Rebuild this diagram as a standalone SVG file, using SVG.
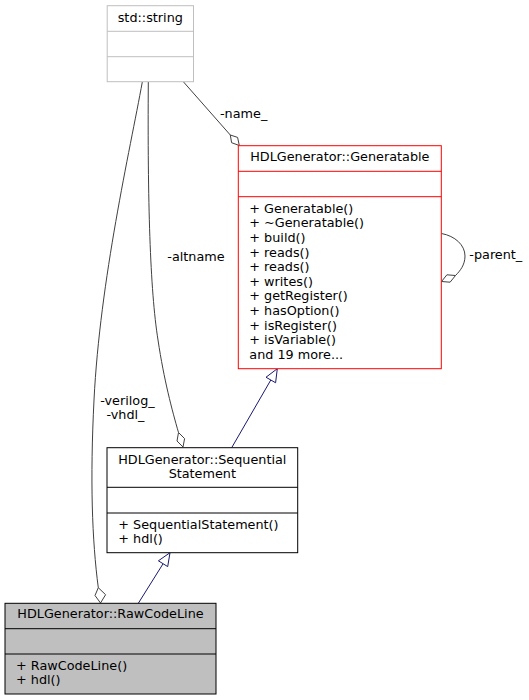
<svg xmlns="http://www.w3.org/2000/svg" width="529" height="700" viewBox="0 0 529 700">
<style>
text{font-family:"DejaVu Sans","Liberation Sans",sans-serif;font-size:12.8px;fill:#000}
.c{text-anchor:middle}
.box{stroke-width:1}
.agg{fill:none;stroke:#404040;stroke-width:1}
.dia{fill:#fff;stroke:#404040;stroke-width:1}
.inh{fill:none;stroke:#191970;stroke-width:1}
.tri{fill:#fff;stroke:#191970;stroke-width:1}
</style>
<rect width="529" height="700" fill="#fff"/>
<g id="connectors">
  <!-- -name_ -->
  <path class="agg" d="M183.3,81.7 L230.3,135"/>
  <polygon class="dia" points="230.3,135 237.6,137.4 239.3,145.5 231.6,142.7"/>
  <text x="220" y="118">-name_</text>
  <!-- -altname -->
  <path class="agg" d="M148.3,82 C147.5,200 150,290 158,340 C164,380 172,410 178.5,432.5"/>
  <polygon class="dia" points="178.5,432.5 184.6,438.6 183,447 177,441"/>
  <text x="167.3" y="261">-altname</text>
  <!-- -verilog_ -vhdl_ -->
  <path class="agg" d="M142.3,82 C130,150 100,280 94,400 C90,480 92,540 98.3,587.7"/>
  <polygon class="dia" points="98.3,587.7 105.6,594.7 100.5,603 95,595.5"/>
  <text class="c" x="127.5" y="404.5">-verilog_</text>
  <text class="c" x="125.5" y="419">-vhdl_</text>
  <!-- -parent_ -->
  <path class="agg" d="M441.5,233.5 C455,236 465,245 465,256 C465,265 460,271 455.5,275.5"/>
  <polygon class="dia" points="455.5,275.5 450.1,282.2 441.5,281.5 446.9,274.8"/>
  <text x="469.3" y="259">-parent_</text>
  <!-- inheritance -->
  <path class="inh" d="M231.7,447.7 L270.8,380"/>
  <polygon class="tri" points="277.3,368.7 275.6,382.75 266,377.25"/>
  <path class="inh" d="M138.3,603.3 L163.1,563.7"/>
  <polygon class="tri" points="170,552.7 167.7,566.6 158.4,560.8"/>
</g>
<g id="node-std-string">
  <rect class="box" x="107.2" y="5.7" width="86.3" height="76" fill="#fff" stroke="#bfbfbf"/>
  <line x1="107.2" y1="31.3" x2="193.5" y2="31.3" stroke="#bfbfbf"/>
  <line x1="107.2" y1="56.7" x2="193.5" y2="56.7" stroke="#bfbfbf"/>
  <text class="c" x="150.3" y="22">std::string</text>
</g>
<g id="node-generatable">
  <rect class="box" x="238.3" y="145.7" width="203" height="223" fill="#fff" stroke="#ff0000"/>
  <line x1="238.3" y1="171.3" x2="441.3" y2="171.3" stroke="#ff0000"/>
  <line x1="238.3" y1="196.7" x2="441.3" y2="196.7" stroke="#ff0000"/>
  <text class="c" x="339.8" y="161">HDLGenerator::Generatable</text>
  <text x="249.3" y="212.7">+ Generatable()</text>
  <text x="249.3" y="227.3">+ ~Generatable()</text>
  <text x="249.3" y="241.9">+ build()</text>
  <text x="249.3" y="256.5">+ reads()</text>
  <text x="249.3" y="271.1">+ reads()</text>
  <text x="249.3" y="285.7">+ writes()</text>
  <text x="249.3" y="300.3">+ getRegister()</text>
  <text x="249.3" y="314.9">+ hasOption()</text>
  <text x="249.3" y="329.5">+ isRegister()</text>
  <text x="249.3" y="344.1">+ isVariable()</text>
  <text x="249.3" y="358.7">and 19 more...</text>
</g>
<g id="node-sequential">
  <rect class="box" x="107" y="447.7" width="190.7" height="105" fill="#fff" stroke="#000"/>
  <line x1="107" y1="487.3" x2="297.7" y2="487.3" stroke="#000"/>
  <line x1="107" y1="513" x2="297.7" y2="513" stroke="#000"/>
  <text class="c" x="202.3" y="463.5">HDLGenerator::Sequential</text>
  <text class="c" x="202.3" y="478">Statement</text>
  <text x="118.3" y="528.5">+ SequentialStatement()</text>
  <text x="118.3" y="543">+ hdl()</text>
</g>
<g id="node-rawcodeline">
  <rect class="box" x="5" y="603.3" width="211" height="90.7" fill="#bfbfbf" stroke="#000"/>
  <line x1="5" y1="628.7" x2="216" y2="628.7" stroke="#000"/>
  <line x1="5" y1="654" x2="216" y2="654" stroke="#000"/>
  <text class="c" x="110.5" y="618.3">HDLGenerator::RawCodeLine</text>
  <text x="16" y="669.8">+ RawCodeLine()</text>
  <text x="16" y="684">+ hdl()</text>
</g>
</svg>
